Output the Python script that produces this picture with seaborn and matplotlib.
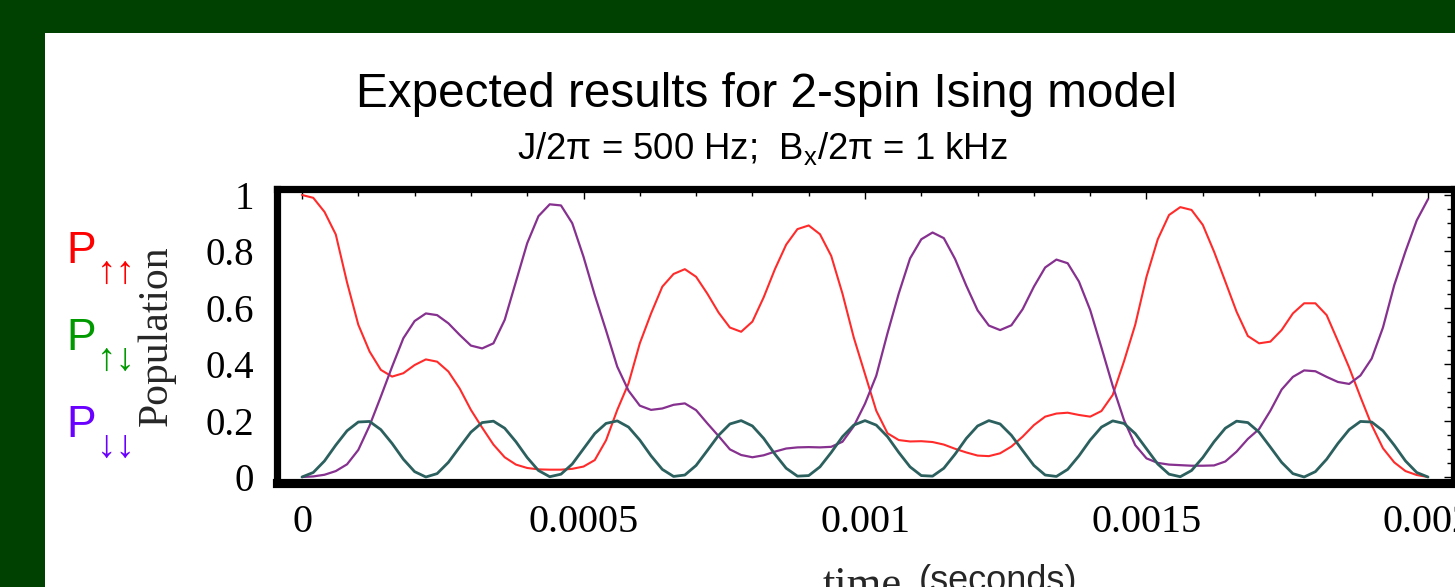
import numpy as np
import pandas as pd
import matplotlib
matplotlib.use("Agg")
import matplotlib.pyplot as plt
import seaborn as sns
from matplotlib.ticker import MultipleLocator
from matplotlib.patches import Rectangle

# ---------------- data ----------------
time_s = np.linspace(0, 0.002, 101)   # sampling instants, every 20 microseconds

p_up_up = [
    1.000, 0.990, 0.940, 0.860, 0.690, 0.540, 0.445, 0.380, 0.356, 0.368,
    0.397, 0.417, 0.409, 0.374, 0.314, 0.238, 0.175, 0.115, 0.070, 0.044,
    0.032, 0.027, 0.026, 0.026, 0.029, 0.037, 0.060, 0.130, 0.238, 0.332,
    0.474, 0.580, 0.675, 0.720, 0.737, 0.710, 0.650, 0.583, 0.530, 0.515,
    0.551, 0.637, 0.737, 0.824, 0.879, 0.892, 0.861, 0.784, 0.650, 0.495,
    0.365, 0.235, 0.155, 0.131, 0.126, 0.127, 0.124, 0.115, 0.100, 0.087,
    0.076, 0.074, 0.084, 0.108, 0.143, 0.184, 0.214, 0.225, 0.228, 0.220,
    0.214, 0.234, 0.291, 0.410, 0.540, 0.710, 0.843, 0.929, 0.957, 0.947,
    0.894, 0.799, 0.693, 0.586, 0.500, 0.474, 0.480, 0.521, 0.580, 0.616,
    0.616, 0.574, 0.482, 0.388, 0.284, 0.184, 0.102, 0.052, 0.021, 0.007,
    0.000]

p_down_down = [
    0.000, 0.002, 0.008, 0.021, 0.045, 0.096, 0.182, 0.285, 0.391, 0.492,
    0.553, 0.580, 0.574, 0.545, 0.504, 0.466, 0.456, 0.474, 0.557, 0.693,
    0.829, 0.925, 0.967, 0.963, 0.900, 0.781, 0.645, 0.520, 0.391, 0.306,
    0.253, 0.238, 0.243, 0.256, 0.261, 0.237, 0.190, 0.145, 0.098, 0.078,
    0.070, 0.077, 0.090, 0.101, 0.105, 0.106, 0.105, 0.107, 0.125, 0.180,
    0.260, 0.359, 0.510, 0.651, 0.775, 0.843, 0.867, 0.847, 0.773, 0.678,
    0.591, 0.537, 0.521, 0.538, 0.595, 0.675, 0.743, 0.771, 0.758, 0.693,
    0.592, 0.459, 0.323, 0.202, 0.113, 0.066, 0.050, 0.044, 0.042, 0.040,
    0.040, 0.041, 0.055, 0.090, 0.135, 0.170, 0.235, 0.310, 0.355, 0.378,
    0.375, 0.355, 0.337, 0.330, 0.360, 0.420, 0.530, 0.680, 0.800, 0.910,
    0.985]

p_up_down = [
    0.000, 0.016, 0.057, 0.113, 0.164, 0.195, 0.197, 0.168, 0.119, 0.063,
    0.019, 0.000, 0.012, 0.052, 0.106, 0.159, 0.193, 0.198, 0.173, 0.125,
    0.069, 0.023, 0.001, 0.010, 0.046, 0.100, 0.154, 0.190, 0.199, 0.177,
    0.131, 0.075, 0.027, 0.002, 0.007, 0.041, 0.094, 0.148, 0.188, 0.200,
    0.181, 0.137, 0.081, 0.031, 0.003, 0.005, 0.036, 0.087, 0.143, 0.184,
    0.200, 0.184, 0.143, 0.087, 0.036, 0.005, 0.003, 0.031, 0.081, 0.137,
    0.181, 0.200, 0.188, 0.148, 0.094, 0.041, 0.007, 0.002, 0.027, 0.075,
    0.131, 0.177, 0.199, 0.190, 0.154, 0.100, 0.046, 0.010, 0.001, 0.023,
    0.069, 0.125, 0.173, 0.198, 0.193, 0.159, 0.106, 0.052, 0.012, 0.000,
    0.019, 0.063, 0.119, 0.168, 0.197, 0.195, 0.164, 0.113, 0.057, 0.016,
    0.000]

x_ticks = [0, 0.0005, 0.001, 0.0015, 0.002]
x_tick_labels = ["0", "0.0005", "0.001", "0.0015", "0.002"]
y_ticks = [0, 0.2, 0.4, 0.6, 0.8, 1.0]
y_tick_labels = ["0", "0.2", "0.4", "0.6", "0.8", "1"]

state_labels = ["\u2191\u2191", "\u2191\u2193", "\u2193\u2193"]
state_colors = ["#ff0000", "#009a00", "#6a00ff"]

# ---------------- styling ----------------
sns.set_theme(style="white")
plt.rcParams['font.family'] = ['Liberation Sans', 'DejaVu Sans']
plt.rcParams['mathtext.fontset'] = 'custom'
plt.rcParams['mathtext.rm'] = 'Liberation Sans'
plt.rcParams['mathtext.it'] = 'Liberation Sans'
plt.rcParams['lines.solid_joinstyle'] = 'round'
plt.rcParams['lines.solid_capstyle'] = 'round'

W, H = 1455, 587
fig = plt.figure(figsize=(W / 100, H / 100), dpi=100)
fig.patch.set_facecolor('#004000')
fig.add_artist(Rectangle((45 / W, 0), 1 - 45 / W, (H - 33) / H,
                         transform=fig.transFigure, facecolor='white',
                         edgecolor='none', zorder=-5))

left, right, top, bottom = 276.5, 1453.5, 188.5, 483.0
ax = fig.add_axes([left / W, (H - bottom) / H, (right - left) / W, (bottom - top) / H])
ax.set_facecolor('white')

df = pd.DataFrame({"time": time_s, "uu": p_up_up, "dd": p_down_down, "ud": p_up_down})
sns.lineplot(data=df, x="time", y="uu", ax=ax, color="#ff2b2b", linewidth=1.5)
sns.lineplot(data=df, x="time", y="dd", ax=ax, color="#86318f", linewidth=1.6)
sns.lineplot(data=df, x="time", y="ud", ax=ax, color="#2b605e", linewidth=2.0)
for ln in ax.get_lines():
    ln.set_solid_joinstyle("round")

ax.set_xlabel("")
ax.set_ylabel("")
ax.set_xlim(-0.0000453, 0.0020453)
ax.set_ylim((477 - bottom) / 282, (477 - top) / 282)

ax.set_xticks(x_ticks, labels=x_tick_labels)
ax.set_yticks(y_ticks, labels=y_tick_labels)
ax.xaxis.set_minor_locator(MultipleLocator(0.0001))
ax.yaxis.set_minor_locator(MultipleLocator(0.05))

for side in ["left", "top", "right"]:
    ax.spines[side].set_linewidth(5.2)
    ax.spines[side].set_color("black")
ax.spines["bottom"].set_linewidth(6.6)
ax.spines["bottom"].set_color("black")

ax.tick_params(which="both", direction="in", top=True, right=True,
               color="black", width=1.0)
ax.tick_params(which="major", length=7.5)
ax.tick_params(which="minor", length=5.0)
ax.tick_params(axis="x", which="major", pad=15, labelsize=29)
ax.tick_params(axis="y", which="major", pad=16, labelsize=28)
for lab in ax.get_xticklabels() + ax.get_yticklabels():
    lab.set_family(["Liberation Serif", "DejaVu Serif"])
    lab.set_color("black")

# ---------------- texts ----------------
fig.text(766 / W, (H - 107) / H, "Expected results for 2-spin Ising model",
         ha="center", va="baseline", fontsize=34.3, color="black")
fig.text(762 / W, (H - 159) / H,
         "J/2\u03c0 = 500 Hz;  B$_\\mathregular{x}$/2\u03c0 = 1 kHz",
         ha="center", va="baseline", fontsize=26.3, color="black")

fig.text(157 / W, (H - 336) / H, "Population", rotation=90, ha="center",
         va="center", fontsize=30, family=["Liberation Serif", "DejaVu Serif"])

# xlabel (mostly cut off by the lower edge of the picture)
fig.text(862 / W, (H - 566) / H, "time", ha="center", va="top", fontsize=32,
         family=["Liberation Serif", "DejaVu Serif"])
fig.text(998 / W, (H - 564) / H, "(seconds)", ha="center", va="top", fontsize=26,
         family=["Liberation Sans", "DejaVu Sans"])

# state labels on the left
p_baselines = [263, 350, 437]
for lbl, col, base in zip(state_labels, state_colors, p_baselines):
    fig.text(66 / W, (H - base) / H, "P", ha="left", va="baseline",
             fontsize=32, color=col, family=["Liberation Sans", "DejaVu Sans"])
    fig.text(97 / W, (H - base - 20) / H, lbl, ha="left", va="baseline",
             fontsize=28, color=col, family=["Liberation Sans", "DejaVu Sans"])

fig.savefig("out.png", dpi=100, facecolor=fig.get_facecolor())
